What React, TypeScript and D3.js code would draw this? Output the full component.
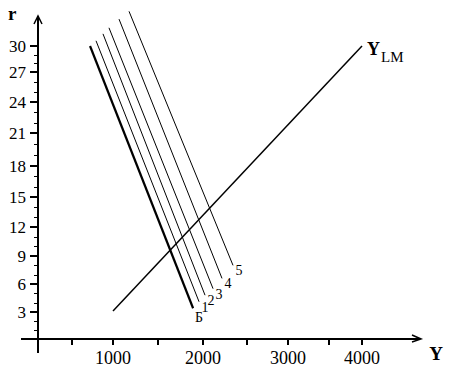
import React from 'react';
import * as d3 from 'd3';

// ---- data ----
const xTickValues = [500, 1000, 1500, 2000, 2500, 3000, 3500, 4000];
const xTickLabels = [1000, 2000, 3000, 4000];
const yTickLabels = [3, 6, 9, 12, 15, 18, 21, 24, 27, 30];
const yMinorValues = d3.range(1, 31);

const isNames = ['Б', '1', '2', '3', '4', '5'];
const isStartY = [720, 793, 878, 951, 1067, 1178];
const isStartR = [30, 30.6, 31.4, 32.1, 33.1, 34.0];
const isEndY = [1890, 1956, 2023, 2114, 2216, 2341];
const isEndR = [3.4, 4.1, 4.8, 5.5, 6.6, 8.0];

const lmY = [1000, 4000];
const lmR = [3.1, 30];

// ---- scales (hand-drawn axes: piecewise) ----
const x = d3.scaleLinear()
  .domain([0, 500, 1000, 1500, 2000, 2500, 3000, 3500, 4000])
  .range([38, 72, 113, 158, 203, 247, 288, 329, 362]);
const y = d3.scaleLinear()
  .domain([0, 3, 6, 9, 12, 15, 18, 21, 24, 27, 30])
  .range([339, 312, 284, 256, 227, 197, 166, 133, 102, 72, 46]);

const line = d3.line<[number, number]>().x(d => x(d[0])).y(d => y(d[1]));

const font = '"Liberation Serif", "Times New Roman", serif';

export default function App() {
  const x0 = x(0);
  const y0 = y(0);
  return (
    <svg width={452} height={376} style={{ position: 'absolute', left: 0, top: 0, background: '#fff' }}
      fontFamily={font}>
      <g shapeRendering="crispEdges">
        {/* axes */}
        <line x1={x0} y1={353} x2={x0} y2={16} stroke="#000" strokeWidth={2} />
        <line x1={21} y1={y0} x2={420} y2={y0} stroke="#000" strokeWidth={2} />

        {/* y ticks */}
        {yMinorValues.map(v => (
          <line key={'m' + v} x1={x0 - 4} x2={x0} y1={Math.round(y(v))} y2={Math.round(y(v))} stroke="#000" strokeWidth={1} />
        ))}
        {yTickLabels.map(v => (
          <line key={'yt' + v} x1={x0 - 8} x2={x0} y1={Math.round(y(v))} y2={Math.round(y(v))} stroke="#000" strokeWidth={2} />
        ))}

        {/* x ticks */}
        {xTickValues.map(v => (
          <line key={'x' + v} x1={x(v)} x2={x(v)} y1={y0} y2={y0 + 6} stroke="#000" strokeWidth={2} />
        ))}
      </g>
      <path d={`M${x0 - 4},${24} L${x0},${16} L${x0 + 4},${24}`} fill="none" stroke="#000" strokeWidth={1.5} />
      <path d={`M${412},${y0 - 4} L${421},${y0} L${412},${y0 + 3}`} fill="none" stroke="#000" strokeWidth={1.5} />

      {yTickLabels.map(v => (
        <text key={'y' + v} x={26} y={y(v)} dy="0.35em" textAnchor="end" fontSize={17}>{v}</text>
      ))}
      {xTickLabels.map(v => (
        <text key={'xl' + v} x={x(v)} y={364} textAnchor="middle" fontSize={18}>{v}</text>
      ))}

      {/* IS lines */}
      {isNames.map((n, i) => {
        const pts: [number, number][] = [[isStartY[i], isStartR[i]], [isEndY[i], isEndR[i]]];
        return (
          <g key={'is' + i}>
            <path d={line(pts) || ''} fill="none" stroke="#000" strokeWidth={i === 0 ? 2.2 : 1} />
            <text x={x(isEndY[i]) + 6} y={y(isEndR[i]) + (i === 0 ? 14 : 10)} textAnchor="middle" fontSize={14}>{n}</text>
          </g>
        );
      })}

      {/* LM line */}
      <path d={line([[lmY[0], lmR[0]], [lmY[1], lmR[1]]]) || ''} fill="none" stroke="#000" strokeWidth={1.5} />
      <text x={x(lmY[1]) + 5} y={y(lmR[1]) + 9} fontSize={18} fontWeight="bold">Y</text>
      <text x={x(lmY[1]) + 19} y={y(lmR[1]) + 16} fontSize={15}>LM</text>

      {/* axis titles */}
      <text x={8} y={20} fontSize={19} fontWeight="bold">r</text>
      <text x={436} y={360} textAnchor="middle" fontSize={19} fontWeight="bold">Y</text>
    </svg>
  );
}
